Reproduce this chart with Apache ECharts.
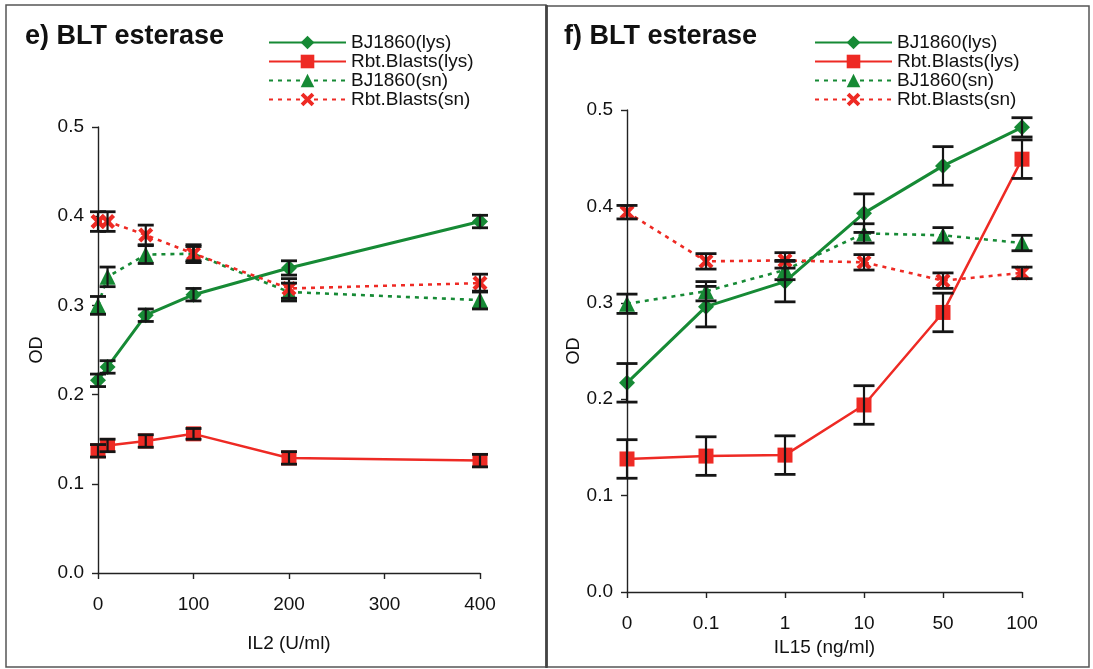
<!DOCTYPE html>
<html>
<head>
<meta charset="utf-8">
<title>BLT esterase</title>
<script src="https://cdn.jsdelivr.net/npm/echarts@6/dist/echarts.min.js"></script>
<style>
  html, body { margin: 0; padding: 0; background: #fff; }
  #chart { width: 1093px; height: 669px; }
</style>
</head>
<body>
<div id="chart"></div>
<script>
// ---- data: panel e (IL2 dose response) ----
const il2Doses = [0, 10, 50, 100, 200, 400];
const il2BjLys = [0.216, 0.231, 0.289, 0.312, 0.342, 0.394];
const il2BjLysErr = [0.007, 0.007, 0.007, 0.007, 0.008, 0.007];
const il2RbtLys = [0.137, 0.143, 0.148, 0.156, 0.129, 0.126];
const il2RbtLysErr = [0.007, 0.007, 0.007, 0.006, 0.007, 0.007];
const il2BjSn = [0.300, 0.332, 0.357, 0.358, 0.315, 0.306];
const il2BjSnErr = [0.010, 0.011, 0.010, 0.008, 0.010, 0.010];
const il2RbtSn = [0.394, 0.394, 0.379, 0.358, 0.319, 0.325];
const il2RbtSnErr = [0.011, 0.011, 0.011, 0.010, 0.011, 0.010];
const il2Ticks = [0, 100, 200, 300, 400];

// ---- data: panel f (IL15 dose response) ----
const il15Doses = ['0', '0.1', '1', '10', '50', '100'];
const il15BjLys = [0.217, 0.296, 0.322, 0.393, 0.442, 0.482];
const il15BjLysErr = [0.020, 0.021, 0.021, 0.020, 0.020, 0.010];
const il15RbtLys = [0.138, 0.141, 0.142, 0.194, 0.290, 0.449];
const il15RbtLysErr = [0.020, 0.020, 0.020, 0.020, 0.020, 0.020];
const il15BjSn = [0.299, 0.312, 0.334, 0.372, 0.370, 0.362];
const il15BjSnErr = [0.010, 0.010, 0.010, 0.010, 0.008, 0.008];
const il15RbtSn = [0.394, 0.343, 0.344, 0.342, 0.323, 0.331];
const il15RbtSnErr = [0.007, 0.008, 0.008, 0.008, 0.008, 0.006];

const seriesNames = ['BJ1860(lys)', 'Rbt.Blasts(lys)', 'BJ1860(sn)', 'Rbt.Blasts(sn)'];

const GREEN = '#168a35';
const RED = '#ee2a24';
const FONT = 'Liberation Sans, Arial, sans-serif';
const CROSS = 'path://M0,2 L2,0 L5,3 L8,0 L10,2 L7,5 L10,8 L8,10 L5,7 L2,10 L0,8 L3,5 Z';

const styles = [
  { color: GREEN, symbol: 'diamond', size: 16, line: { width: 3, type: 'solid' } },
  { color: RED, symbol: 'rect', size: 15, line: { width: 2.5, type: 'solid' } },
  { color: GREEN, symbol: 'triangle', size: 16, line: { width: 2.6, type: [4, 5] } },
  { color: RED, symbol: CROSS, size: 15, line: { width: 2.6, type: [4, 5] } }
];

function lineSeries(name, style, xs, ys, axisIdx) {
  return {
    type: 'line',
    name: name,
    xAxisIndex: axisIdx,
    yAxisIndex: axisIdx,
    data: ys.map((y, i) => [xs[i], y]),
    symbol: style.symbol,
    symbolSize: style.size,
    showAllSymbol: true,
    itemStyle: { color: style.color },
    lineStyle: { color: style.color, width: style.line.width, type: style.line.type },
    z: 2,
    animation: false
  };
}

function errorSeries(xs, ys, errs, axisIdx, halfCap) {
  return {
    type: 'custom',
    name: 'err',
    xAxisIndex: axisIdx,
    yAxisIndex: axisIdx,
    data: ys.map((y, i) => [xs[i], y - errs[i], y + errs[i]]),
    encode: { x: 0, y: [1, 2] },
    clip: false,
    silent: true,
    z: 3,
    animation: false,
    renderItem: function (params, api) {
      const x = api.value(0);
      const top = api.coord([x, api.value(2)]);
      const bot = api.coord([x, api.value(1)]);
      const st = { stroke: '#151515', lineWidth: 2.2 };
      const cap = { stroke: '#151515', lineWidth: 2.8 };
      return {
        type: 'group',
        children: [
          { type: 'line', shape: { x1: top[0], y1: top[1], x2: bot[0], y2: bot[1] }, style: st },
          { type: 'line', shape: { x1: top[0] - halfCap, y1: top[1], x2: top[0] + halfCap, y2: top[1] }, style: cap },
          { type: 'line', shape: { x1: bot[0] - halfCap, y1: bot[1], x2: bot[0] + halfCap, y2: bot[1] }, style: cap }
        ]
      };
    }
  };
}

const il15Idx = il15Doses.map((d, i) => i);

const leftGroups = [
  [il2BjLys, il2BjLysErr], [il2RbtLys, il2RbtLysErr], [il2BjSn, il2BjSnErr], [il2RbtSn, il2RbtSnErr]
];
const rightGroups = [
  [il15BjLys, il15BjLysErr], [il15RbtLys, il15RbtLysErr], [il15BjSn, il15BjSnErr], [il15RbtSn, il15RbtSnErr]
];

const series = [];
leftGroups.forEach((g, k) => {
  series.push(lineSeries(seriesNames[k], styles[k], il2Doses, g[0], 0));
});
rightGroups.forEach((g, k) => {
  series.push(lineSeries(seriesNames[k], styles[k], il15Idx, g[0], 1));
});
leftGroups.forEach((g) => series.push(errorSeries(il2Doses, g[0], g[1], 0, 8)));
rightGroups.forEach((g) => series.push(errorSeries(il15Idx, g[0], g[1], 1, 10.5)));

const axisLineStyle = { color: '#222', width: 1.4 };
const labelStyle = { color: '#111', fontSize: 19, fontFamily: FONT };

function yAxis(gridIndex, margin, nameGap) {
  return {
    type: 'value',
    gridIndex: gridIndex,
    min: 0, max: 0.5, interval: 0.1,
    name: 'OD',
    nameLocation: 'middle',
    nameGap: nameGap,
    nameTextStyle: { color: '#111', fontSize: 18, fontFamily: FONT },
    axisLine: { show: true, lineStyle: axisLineStyle },
    axisTick: { show: true, length: 6, lineStyle: axisLineStyle },
    axisLabel: Object.assign({ margin: margin, formatter: (v) => v.toFixed(1) }, labelStyle),
    splitLine: { show: false }
  };
}

const legendBase = {
  orient: 'vertical',
  itemWidth: 77,
  itemHeight: 17,
  itemGap: 0,
  padding: 0,
  selectedMode: false,
  data: seriesNames,
  textStyle: { color: '#111', fontSize: 19, fontFamily: FONT, lineHeight: 18, padding: [0, 0, 0, 0] }
};

const option = {
  backgroundColor: '#ffffff',
  animation: false,
  title: [
    { text: 'e) BLT esterase', left: 25, top: 23, padding: 0,
      textStyle: { fontSize: 27, fontWeight: 'bold', color: '#111', fontFamily: FONT } },
    { text: 'f) BLT esterase', left: 564, top: 23, padding: 0,
      textStyle: { fontSize: 27, fontWeight: 'bold', color: '#111', fontFamily: FONT } }
  ],
  legend: [
    Object.assign({ left: 268, top: 33 }, legendBase),
    Object.assign({ left: 814, top: 33 }, legendBase)
  ],
  grid: [
    { left: 98, top: 127, width: 382, height: 446 },
    { left: 627, top: 110, width: 395, height: 482 }
  ],
  xAxis: [
    {
      type: 'value', gridIndex: 0,
      min: il2Ticks[0], max: il2Ticks[il2Ticks.length - 1], interval: 100,
      name: 'IL2 (U/ml)', nameLocation: 'middle', nameGap: 61,
      nameTextStyle: { color: '#111', fontSize: 19, fontFamily: FONT },
      axisLine: { show: true, onZero: false, lineStyle: axisLineStyle },
      axisTick: { show: true, length: 6, lineStyle: axisLineStyle },
      axisLabel: Object.assign({ margin: 22 }, labelStyle),
      splitLine: { show: false }
    },
    {
      type: 'category', gridIndex: 1, data: il15Doses, boundaryGap: false,
      name: 'IL15 (ng/ml)', nameLocation: 'middle', nameGap: 38,
      nameTextStyle: { color: '#111', fontSize: 19, fontFamily: FONT },
      axisLine: { show: true, onZero: false, lineStyle: axisLineStyle },
      axisTick: { show: true, length: 6, lineStyle: axisLineStyle },
      axisLabel: Object.assign({ margin: 22, interval: 0 }, labelStyle),
      splitLine: { show: false }
    }
  ],
  yAxis: [yAxis(0, 14, 52), yAxis(1, 14, 40)],
  graphic: [
    { type: 'rect', shape: { x: 6, y: 5, width: 540, height: 662 }, style: { fill: 'none', stroke: '#555', lineWidth: 1.5 }, silent: true },
    { type: 'rect', shape: { x: 547, y: 6, width: 542, height: 661 }, style: { fill: 'none', stroke: '#555', lineWidth: 1.5 }, silent: true },
    { type: 'line', shape: { x1: 546.5, y1: 5, x2: 546.5, y2: 668 }, style: { stroke: '#444', lineWidth: 2.5 }, silent: true }
  ],
  series: series
};

const chart = echarts.init(document.getElementById('chart'), null, { renderer: 'canvas' });
chart.setOption(option);
</script>
</body>
</html>
